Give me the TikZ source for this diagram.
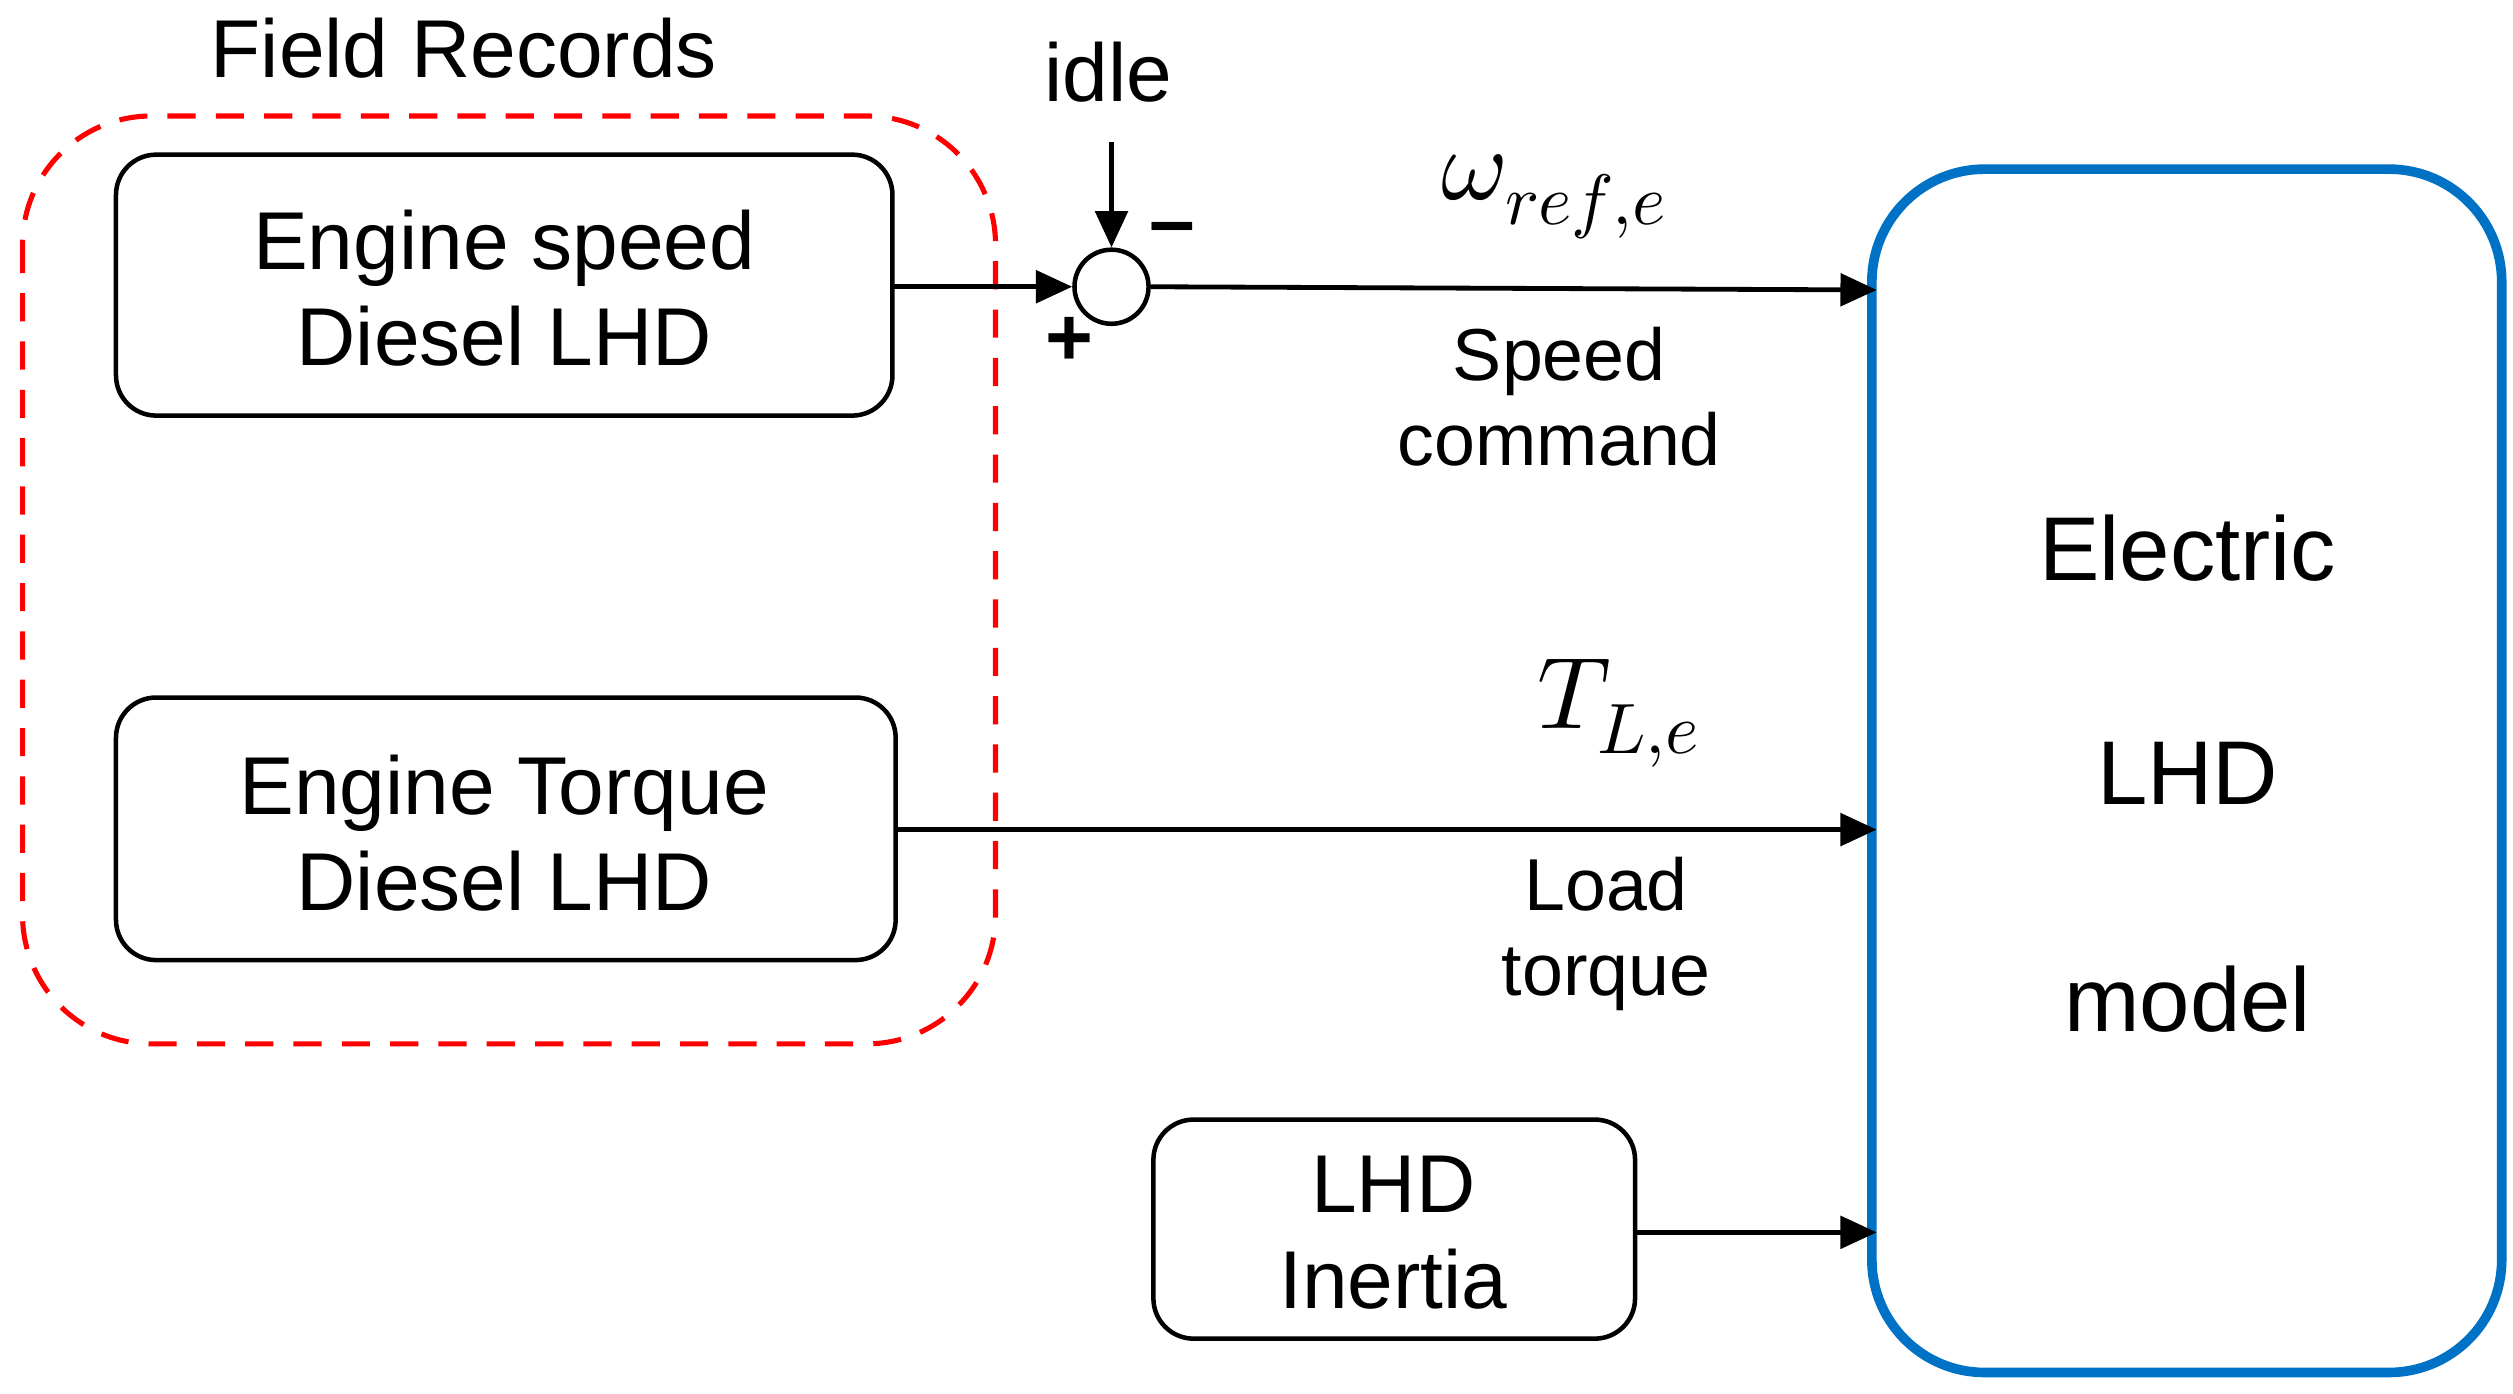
\documentclass[tikz,border=0pt]{standalone}
\usepackage{unicode-math}
\setmainfont{Liberation Sans}
\usetikzlibrary{arrows.meta}
\begin{document}
\begin{tikzpicture}[x=0.02cm,y=-0.02cm,
  txt/.style={font=\fontsize{29}{36}\selectfont, align=center},
  lbl/.style={font=\fontsize{26}{32}\selectfont, align=center},
  box/.style={draw, line width=1.6pt, rounded corners=0.5cm},
  arr/.style={line width=1.7pt, -{Triangle[length=0.45cm,width=0.4cm]}}]
\useasboundingbox (0,0) rectangle (1560,865);
\draw[red, dashed, line width=1.8pt, dash pattern=on 0.35cm off 0.25cm, rounded corners=1.6cm] (14,72) rectangle (618,648);
\node[txt] (fr) at (288,30) {Field Records};
\draw[box] (72,96) rectangle (554,258);
\node[txt] (b1) at (313,179) {Engine speed\\[-2pt]Diesel LHD};
\coordinate (b1r) at (554,178);
\draw[box] (72,433) rectangle (556,596);
\node[txt] (b2) at (313,517) {Engine Torque\\[-2pt]Diesel LHD};
\coordinate (b2r) at (556,515);
\draw[box] (716,695) rectangle (1015,831);
\node[txt] (b3) at (865,765) {LHD\\[-2pt]Inertia};
\coordinate (b3r) at (1015,765);
\draw[draw={rgb,255:red,0;green,114;blue,198}, line width=3.4pt, rounded corners=1.4cm] (1162,105) rectangle (1553,852);
\node[txt, font=\fontsize{32}{40}\selectfont] (el) at (1358,340) {Electric};
\node[txt, font=\fontsize{32}{40}\selectfont] (lhd) at (1358,480) {LHD};
\node[txt, font=\fontsize{32}{40}\selectfont] (mo) at (1358,620) {model};
\node[draw, circle, line width=1.6pt, minimum size=0.92cm, inner sep=0] (s) at (690,178) {};
\node[txt] (idle) at (688,45) {idle};
\coordinate (it) at (690,88);
\draw[arr] (it) -- (s.north);
\node[txt] (mi) at (728,146) {\textbf{--}};
\node[txt] (pl) at (664,212) {\textbf{+}};
\draw[arr] (b1r) -- (s.west);
\coordinate (e1) at (1165,180);
\coordinate (e2) at (1165,515);
\coordinate (e3) at (1165,765);
\draw[arr] (s.east) -- (e1);
\draw[arr] (b2r) -- (e2);
\draw[arr] (b3r) -- (e3);
\node[txt, font=\fontsize{36}{40}\selectfont] (w) at (965,122) {$\omega_{ref,e}$};
\node[lbl] (sc) at (968,246) {Speed\\[-2pt]command};
\node[txt, font=\fontsize{36}{40}\selectfont] (t) at (1005,443) {$T_{L,e}$};
\node[lbl] (lt) at (997,580) {Load\\[-2pt]torque};
\end{tikzpicture}
\end{document}
